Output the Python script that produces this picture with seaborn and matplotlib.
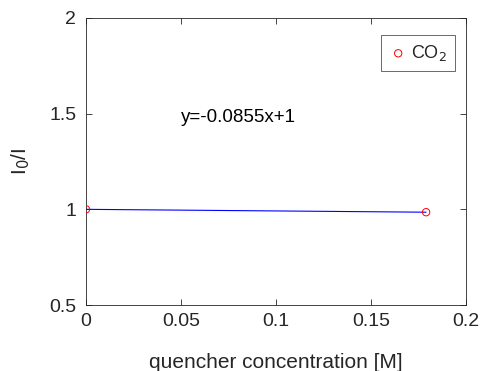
import numpy as np
import pandas as pd
import matplotlib
matplotlib.use("Agg")
import matplotlib.pyplot as plt
import seaborn as sns

# Data
conc = [0.0, 0.179]
ratio = [1.0, 0.985]
fit_label = "y=-0.0855x+1"
x_ticks = [0, 0.05, 0.1, 0.15, 0.2]
y_ticks = [0.5, 1, 1.5, 2]

df = pd.DataFrame({"conc": conc, "ratio": ratio})

sns.set_style("ticks")
plt.rcParams["font.family"] = ["Liberation Sans", "DejaVu Sans"]
txt = "#262626"

fig = plt.figure(figsize=(4.83, 3.71), dpi=100)
ax = fig.add_axes([86 / 483, 1 - 305 / 371, 380 / 483, 287 / 371])

sns.lineplot(data=df, x="conc", y="ratio", color="blue", linewidth=0.8, ax=ax)
sns.scatterplot(data=df, x="conc", y="ratio", marker="o", s=28, facecolor="none",
                edgecolor="red", linewidth=0.7, label="CO$_2$", ax=ax, zorder=3)

ax.text(0.05, 1.48, fit_label, fontsize=13.5, color="black", va="center", ha="left")

ax.set_xlim(0, 0.2)
ax.set_ylim(0.5, 2)
ax.set_xticks(x_ticks)
ax.set_xticklabels(["0", "0.05", "0.1", "0.15", "0.2"])
ax.set_yticks(y_ticks)
ax.set_yticklabels(["0.5", "1", "1.5", "2"])
ax.tick_params(direction="in", length=4, width=0.6, colors=txt, labelsize=14,
               top=True, right=True, labeltop=False, labelright=False)
ax.tick_params(axis="y", pad=7)
ax.tick_params(axis="x", pad=6)
for s in ax.spines.values():
    s.set_visible(True)
    s.set_linewidth(0.6)
    s.set_color(txt)

ax.set_xlabel("quencher concentration [M]", fontsize=15, color=txt, labelpad=16)
ax.set_ylabel("I$_0$/I", fontsize=15, color=txt, labelpad=12)

leg = ax.legend(loc="upper right", frameon=True, fancybox=False, fontsize=13,
                handletextpad=0.2, borderpad=0.45, borderaxespad=0.3,
                handlelength=1.0, bbox_to_anchor=(0.985, 0.96))
leg.get_frame().set_edgecolor(txt)
leg.get_frame().set_linewidth(0.6)

fig.savefig("out.png", dpi=100)
